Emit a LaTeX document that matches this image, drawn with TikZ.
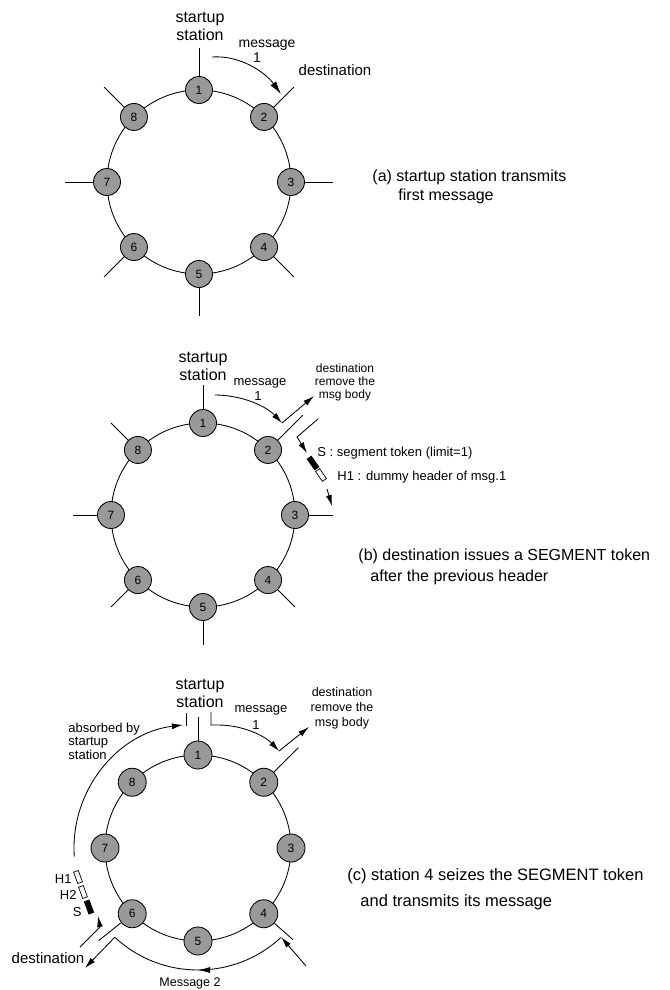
\documentclass[tikz,border=0pt]{standalone}
\usepackage{fontspec}
\setmainfont{Liberation Sans}
\usetikzlibrary{arrows.meta,calc,decorations.markings}
\begin{document}
\begin{tikzpicture}[x=1pt,y=-1pt,line width=0.85pt,
  stn/.style={circle,draw=black,fill=black!40,minimum size=27pt,inner sep=0pt,font=\fontsize{12}{12}\selectfont},
  stnc/.style={stn,minimum size=28pt},
  bigtxt/.style={font=\fontsize{16}{18}\selectfont,align=center,inner sep=0pt},
  midtxt/.style={font=\fontsize{14}{15}\selectfont,inner sep=0pt},
  smltxt/.style={font=\fontsize{13}{13}\selectfont,inner sep=0pt},
  tinytxt/.style={font=\fontsize{12}{13}\selectfont,align=center,inner sep=0pt},
  captxt/.style={font=\fontsize{16}{17}\selectfont,anchor=west,inner sep=0pt},
  arr/.style={-{Latex[length=11pt,width=6pt]}},
  arrbig/.style={-{Latex[length=13pt,width=7pt]}},
  midarrow/.style={postaction={decorate},decoration={markings,mark=at position 0.5 with {\arrow{Latex[length=12pt,width=6pt]}}}},
  tokb/.style={draw,fill=black,minimum width=13pt,minimum height=5pt,inner sep=0pt},
  tokw/.style={draw,fill=white,minimum width=12pt,minimum height=5pt,inner sep=0pt,line width=0.7pt},
]
\useasboundingbox (0,0) rectangle (669,990);

% ---------------- (a) ----------------
\coordinate (ca) at (199,182);
\draw (ca) circle[radius=92];
\foreach \k in {1,...,8}{
  \coordinate (as\k) at ($(ca)+({-90+45*(\k-1)}:134)$);
  \node[stn] (a\k) at ($(ca)+({-90+45*(\k-1)}:92)$) {\k};
  \draw (a\k) -- (as\k);
}
\node[bigtxt] (atxt) at (200,26) {startup\\station};
\node[midtxt] (amsg) at (267,45) {message};
\node[midtxt] (amsg1) at (257,58) {1};
\node[font=\fontsize{15}{16}\selectfont,inner sep=0pt] (adest) at (335,70) {destination};
\coordinate (am0) at (212,57);
\coordinate (am1) at (281,94);
\draw[arrbig] (am0) .. controls (240,55) and (265,72) .. (am1);
\node[captxt] (acap1) at (372,177) {(a) startup station transmits};
\node[captxt] (acap2) at (398,196) {first message};

% ---------------- (b) ----------------
\coordinate (cb) at (203,515);
\draw (cb) circle[radius=92];
\foreach \k in {1,...,8}{
  \node[stn] (b\k) at ($(cb)+({-90+45*(\k-1)}:92)$) {\k};
}
\foreach \k in {1,3,4,5,6,7,8}{
  \coordinate (bs\k) at ($(cb)+({-90+45*(\k-1)}:130)$);
  \draw (b\k) -- (bs\k);
}
\coordinate (bs2) at ($(cb)+(-45:141)$);
\draw (b2) -- (bs2);
\node[bigtxt] (btxt) at (203,366) {startup\\station};
\node[smltxt] (bmsg) at (260,383) {message};
\node[smltxt] (bmsg1) at (258,396) {1};
\node[tinytxt] (bdest) at (345,382) {destination\\remove the\\msg body};
\coordinate (bm0) at (215,395);
\coordinate (bm1) at (282,423);
\coordinate (bm2) at (314,396);
\draw[arr] (bm0) .. controls (240,395) and (265,405) .. (bm1);
\draw[arr] (bm1) -- (bm2);
\coordinate (bo0) at (318,419);
\coordinate (bo1) at (297,437);
\coordinate (bo2) at (307,453);
\draw[arr] (bo0) -- (bo1) -- (bo2);
\node[tokb,rotate=-55] (bS) at (313,463) {};
\node[tokw,rotate=-55] (bH) at (321,475) {};
\coordinate (bq0) at (327,489);
\coordinate (bq1) at (332,506);
\draw[arr] (bq0) -- (bq1);
\node[smltxt,anchor=west] (bSt) at (317,453) {S : segment token (limit=1)};
\node[smltxt,anchor=west] (bHt) at (337,477) {H1 : dummy header of msg.1};
\node[captxt] (bcap1) at (358,556) {(b) destination issues a SEGMENT token};
\node[captxt] (bcap2) at (370,577) {after the previous header};

% ---------------- (c) ----------------
\coordinate (cc) at (198,848);
\draw (cc) circle[radius=93];
\foreach \k in {1,...,8}{
  \node[stnc] (c\k) at ($(cc)+({-90+45*(\k-1)}:93)$) {\k};
}
\coordinate (cs1) at ($(cc)+(-90:131)$);
\coordinate (cs2) at ($(cc)+(-45:142)$);
\coordinate (cs4) at ($(cc)+(44:132)$);
\coordinate (cs6) at ($(cc)+(137:136)$);
\foreach \k in {1,2,4,6}{ \draw (c\k) -- (cs\k); }
\node[bigtxt] (ctxt) at (200,693) {startup\\station};
\node[smltxt] (cmsg) at (261,710) {message};
\node[smltxt] (cmsg1) at (256,725) {1};
\node[tinytxt,font=\fontsize{12.5}{15}\selectfont] (cdest) at (342,708) {destination\\remove the\\msg body};
\node[smltxt,align=left,anchor=west,font=\fontsize{13}{13.5}\selectfont] (cabs) at (68,741) {absorbed by\\startup\\station};
% left bracket and absorbed arc
\coordinate (cL0) at (186,713);
\coordinate (cL1) at (186,726);
\draw (cL0) -- (cL1);
\coordinate (cA0) at ($(cc)+(176:124)$);
\draw[arr] (cA0) arc[start angle=176,end angle=263,radius=124];
% right bracket and message 1
\coordinate (cR0) at (211,712);
\coordinate (cR1) at (279,751);
\coordinate (cR2) at (309,727);
\draw[arr] (cR0) -- (211,725) -- (218,725) .. controls (243,725) and (265,736) .. (cR1);
\draw[arr] (cR1) -- (cR2);
% tokens
\node[tokw,rotate=110] (cH1) at (78,877) {};
\node[tokw,rotate=110] (cH2) at (83,892) {};
\node[tokb,rotate=110] (cS) at (89,907) {};
\node[tinytxt,font=\fontsize{13}{13}\selectfont,anchor=east] (cH1t) at (72,879) {H1};
\node[tinytxt,font=\fontsize{13}{13}\selectfont,anchor=east] (cH2t) at (77,895) {H2};
\node[tinytxt,font=\fontsize{13}{13}\selectfont,anchor=east] (cSt) at (82,912) {S};
\coordinate (cT0) at (80,947);
\coordinate (cT1) at (98,916);
\draw[arr] (cT0) -- (100,927) -- (cT1);
% message 2
\coordinate (cM0) at ($(cc)+(47:122)$);
\coordinate (cM1) at ($(cc)+(133:122)$);
\coordinate (cD) at (85,968);
\coordinate (cI0) at (306,966);
\draw[midarrow] (cM0) arc[start angle=47,end angle=133,radius=122];
\draw[arr] (cM1) -- (cD);
\draw[arr] (cI0) -- (cM0);
\node[font=\fontsize{15}{16}\selectfont,inner sep=0pt] (cdst) at (48,958) {destination};
\node[font=\fontsize{12.5}{13}\selectfont,inner sep=0pt] (cm2) at (190,983) {Message 2};
\node[captxt,font=\fontsize{16.5}{17}\selectfont] (ccap1) at (347,876) {(c) station 4 seizes the SEGMENT token};
\node[captxt,font=\fontsize{16.5}{17}\selectfont] (ccap2) at (360,902) {and transmits its message};
\end{tikzpicture}
\end{document}
